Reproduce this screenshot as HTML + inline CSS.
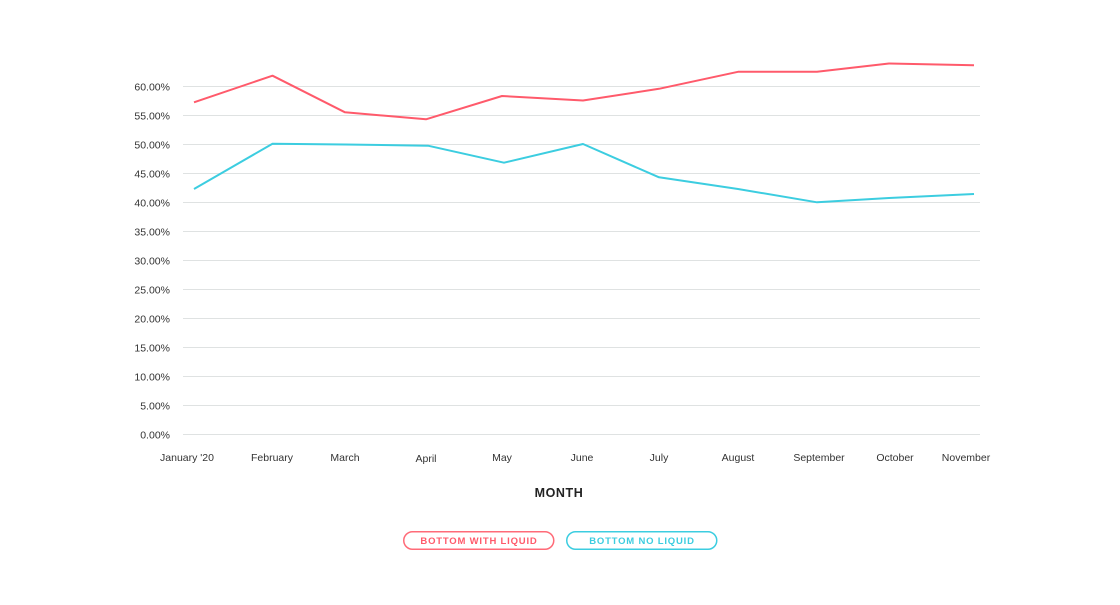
<!DOCTYPE html>
<html><head><meta charset="utf-8"><style>
html,body{margin:0;padding:0;background:#fff;}
svg{display:block;}
text{font-family:"Liberation Sans",sans-serif;}
</style></head><body>
<svg width="1120" height="605" viewBox="0 0 1120 605" xmlns="http://www.w3.org/2000/svg">
<g stroke="#dfe2e2" stroke-width="1">
<line x1="183" x2="980" y1="86.5" y2="86.5"/>
<line x1="183" x2="980" y1="115.5" y2="115.5"/>
<line x1="183" x2="980" y1="144.5" y2="144.5"/>
<line x1="183" x2="980" y1="173.5" y2="173.5"/>
<line x1="183" x2="980" y1="202.5" y2="202.5"/>
<line x1="183" x2="980" y1="231.5" y2="231.5"/>
<line x1="183" x2="980" y1="260.5" y2="260.5"/>
<line x1="183" x2="980" y1="289.5" y2="289.5"/>
<line x1="183" x2="980" y1="318.5" y2="318.5"/>
<line x1="183" x2="980" y1="347.5" y2="347.5"/>
<line x1="183" x2="980" y1="376.5" y2="376.5"/>
<line x1="183" x2="980" y1="405.5" y2="405.5"/>
<line x1="183" x2="980" y1="434.5" y2="434.5"/>
</g>
<g font-size="10.5" fill="#333" text-anchor="end">
<text x="170" y="90.5">60.00%</text>
<text x="170" y="119.5">55.00%</text>
<text x="170" y="148.5">50.00%</text>
<text x="170" y="177.5">45.00%</text>
<text x="170" y="206.5">40.00%</text>
<text x="170" y="235.5">35.00%</text>
<text x="170" y="264.5">30.00%</text>
<text x="170" y="293.5">25.00%</text>
<text x="170" y="322.5">20.00%</text>
<text x="170" y="351.5">15.00%</text>
<text x="170" y="380.5">10.00%</text>
<text x="170" y="409.5">5.00%</text>
<text x="170" y="438.5">0.00%</text>
</g>
<g font-size="10.5" fill="#333" text-anchor="middle">
<text x="187" y="461">January '20</text>
<text x="272" y="461">February</text>
<text x="345" y="461">March</text>
<text x="426" y="462">April</text>
<text x="502" y="461">May</text>
<text x="582" y="461">June</text>
<text x="659" y="461">July</text>
<text x="738" y="461">August</text>
<text x="819" y="461">September</text>
<text x="895" y="461">October</text>
<text x="966" y="461">November</text>
</g>
<text x="559" y="497" font-size="12.5" font-weight="bold" fill="#222" text-anchor="middle" letter-spacing="0.6">MONTH</text>
<polyline fill="none" stroke="#ff5a6b" stroke-width="2" stroke-linejoin="round" points="194,102.3 272.5,75.7 345,112.3 426,119.3 502,96 583,100.5 659,88.8 738,71.8 817,71.8 889,63.5 974,65.3"/>
<polyline fill="none" stroke="#3ccde0" stroke-width="2" stroke-linejoin="round" points="194,189 272.5,143.7 345,144.5 428,145.7 504,162.7 583,144 659,177.3 738,189 817,202.3 889,198 974,194"/>
<rect x="403.75" y="531.75" width="150" height="17.5" rx="8.75" fill="none" stroke="#ff6b78" stroke-width="1.5"/>
<text x="479" y="544" font-size="9.5" font-weight="bold" fill="#ff5a6b" text-anchor="middle" letter-spacing="0.8">BOTTOM WITH LIQUID</text>
<rect x="566.75" y="531.75" width="150" height="17.5" rx="8.75" fill="none" stroke="#3ccde0" stroke-width="1.5"/>
<text x="642" y="544" font-size="9.5" font-weight="bold" fill="#3ccde0" text-anchor="middle" letter-spacing="0.8">BOTTOM NO LIQUID</text>
</svg>
</body></html>
